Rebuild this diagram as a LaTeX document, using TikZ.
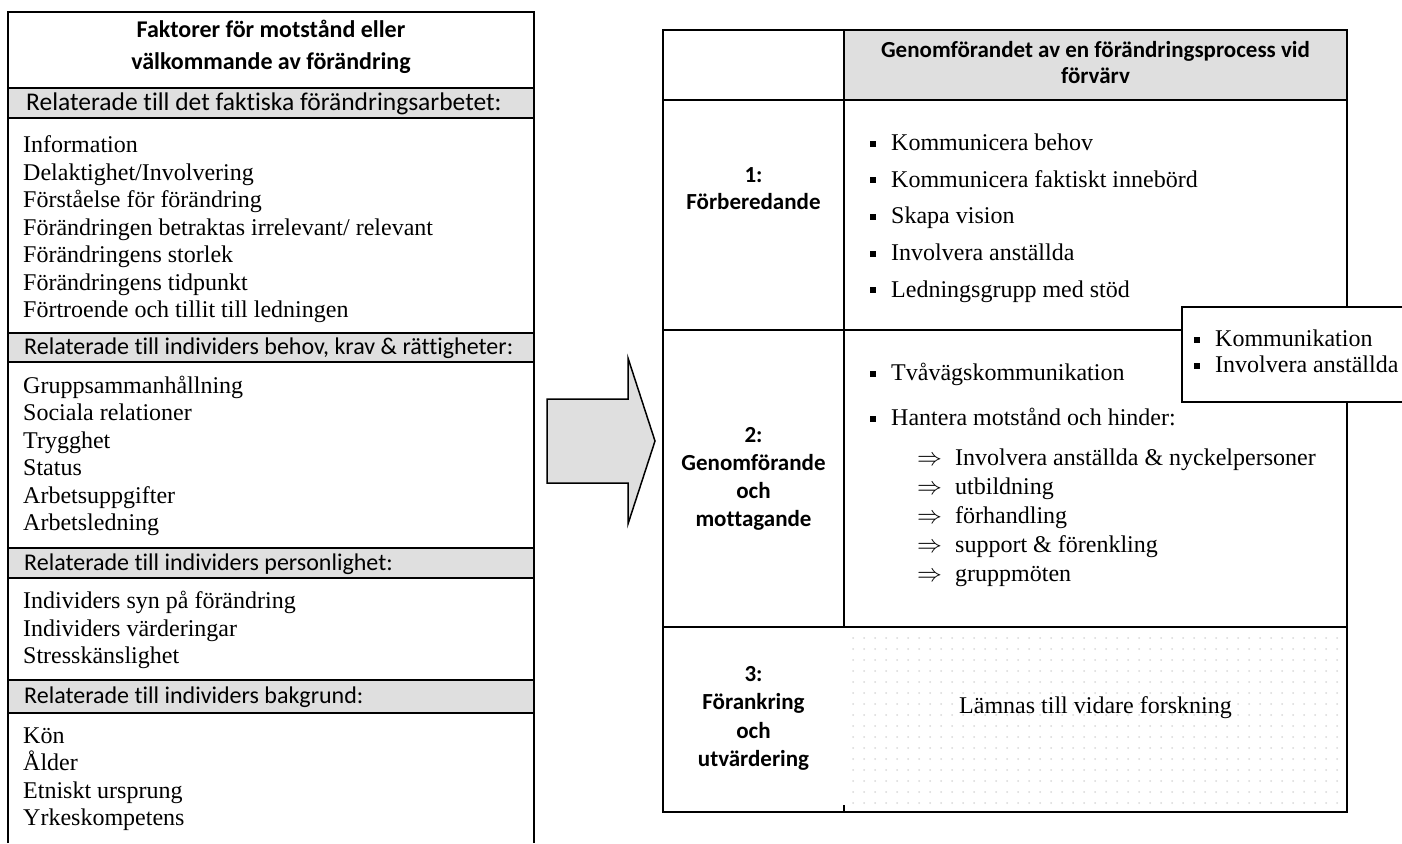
\documentclass[tikz,border=0pt]{standalone}
\usepackage{fontspec}
\setmainfont{Liberation Serif}
\newfontfamily\calibri{Carlito}[Ligatures=NoCommon]
\usetikzlibrary{positioning}
\definecolor{bandgray}{HTML}{DFDFDF}
\definecolor{dotgray}{HTML}{D8D8D8}
\newcommand{\sqbullet}{\makebox[21pt][l]{\rule[4pt]{6pt}{6pt}}}
\newcommand{\dimplies}{\makebox[38pt][l]{$\Rightarrow$}}
\tikzset{
	boxline/.style={
			line width=2pt,
			draw=black
		},
	titlenode/.style={
			font=\calibri\bfseries\fontsize{24}{29}\selectfont,
			inner sep=0pt,
			text height=16pt,
			text depth=5pt
		},
	bandnode/.style={
			anchor=west,
			font=\calibri\fontsize{24}{28}\selectfont,
			inner sep=0pt,
			text height=16pt,
			text depth=5pt
		},
	itemnode/.style={
			anchor=west,
			font=\fontsize{24}{28}\selectfont,
			inner sep=0pt,
			text height=16pt,
			text depth=5pt
		},
	labelnode/.style={
			font=\calibri\bfseries\fontsize{23}{28}\selectfont,
			inner sep=0pt,
			text height=15pt,
			text depth=5pt
		}
}

\begin{document}
\begin{tikzpicture}[x=1pt, y=-1pt]
\useasboundingbox (0,0) rectangle (1402,843);

\fill[bandgray] (8,88) rectangle (534,118) (8,333) rectangle (534,362)
  (8,548) rectangle (534,578) (8,680) rectangle (534,713);
\draw[boxline] (8,843) -- (8,12) -- (534,12) -- (534,843);
\foreach \y in {88,118,333,362,548,578,680,713}
  \draw[boxline] (8,\y) -- (534,\y);

\node[titlenode] (t1) at (271,32) {Faktorer för motstånd eller};
\node[titlenode] (t2) at (271,64) {välkommande av förändring};

\node[bandnode, font=\calibri\fontsize{25.5}{29}\selectfont] (b1) at (26,104.5) {Relaterade till det faktiska förändringsarbetet:};
\node[bandnode] (b2) at (24,349) {Relaterade till individers behov, krav \& rättigheter:};
\node[bandnode] (b3) at (24,564.5) {Relaterade till individers personlighet:};
\node[bandnode] (b4) at (24,698) {Relaterade till individers bakgrund:};

\foreach \txt [count=\i from 0] in {Information, Delaktighet/Involvering,
  Förståelse för förändring, Förändringen betraktas irrelevant/ relevant,
  Förändringens storlek, Förändringens tidpunkt, Förtroende och tillit till ledningen}
  \node[itemnode] (fa\i) at (23,147+27.5*\i) {\txt};
\foreach \txt [count=\i from 0] in {Gruppsammanhållning, Sociala relationer,
  Trygghet, Status, Arbetsuppgifter, Arbetsledning}
  \node[itemnode] (fb\i) at (23,388+27.4*\i) {\txt};
\foreach \txt [count=\i from 0] in {Individers syn på förändring,
  Individers värderingar, Stresskänslighet}
  \node[itemnode] (fc\i) at (23,603+27.5*\i) {\txt};
\foreach \txt [count=\i from 0] in {Kön, Ålder, Etniskt ursprung, Yrkeskompetens}
  \node[itemnode] (fd\i) at (23,738+27.3*\i) {\txt};

\draw[line width=1.5pt, fill=bandgray, line join=miter]
  (547,399) -- (628,399) -- (628,358) -- (655,441) -- (628,524) -- (628,483) -- (547,483) -- cycle;

\fill[bandgray] (844,30) rectangle (1347,100);
\foreach \x in {853,864,...,1340}
  \foreach \y in {638,649,...,803}
    \fill[dotgray] (\x,\y) circle (1pt);
\draw[boxline] (663,30) rectangle (1347,812);
\draw[boxline] (663,100) -- (1347,100);
\draw[boxline] (663,330) -- (1347,330);
\draw[boxline] (663,627) -- (1347,627);
\draw[boxline] (844,30) -- (844,627);
\draw[boxline] (844,805) -- (844,812);

\node[labelnode] (h1) at (1095.5,52) {Genomförandet av en förändringsprocess vid};
\node[labelnode] (h2) at (1095.5,78) {förvärv};

\node[labelnode] (s1a) at (753.5,177) {1:};
\node[labelnode] (s1b) at (753.5,204) {Förberedande};
\node[labelnode] (s2a) at (753.5,437) {2:};
\node[labelnode] (s2b) at (753.5,465) {Genomförande};
\node[labelnode] (s2c) at (753.5,493) {och};
\node[labelnode] (s2d) at (753.5,521) {mottagande};
\node[labelnode] (s3a) at (753.5,676) {3:};
\node[labelnode] (s3b) at (753.5,704) {Förankring};
\node[labelnode] (s3c) at (753.5,733) {och};
\node[labelnode] (s3d) at (753.5,761) {utvärdering};

\foreach \txt [count=\i from 0] in {Kommunicera behov, Kommunicera faktiskt innebörd,
  Skapa vision, Involvera anställda, Ledningsgrupp med stöd}
  \node[itemnode] (p\i) at (870,145+36.7*\i) {\sqbullet\txt};

\node[itemnode] (g1) at (870,375) {\sqbullet Tvåvägskommunikation};
\node[itemnode] (g2) at (870,420) {\sqbullet Hantera motstånd och hinder:};
\foreach \txt [count=\i from 0] in {Involvera anställda \& nyckelpersoner, utbildning,
  förhandling, support \& förenkling, gruppmöten}
  \node[itemnode] (q\i) at (917,460+29.1*\i) {\dimplies\txt};

\node[itemnode, anchor=center] (r1) at (1095.5,708) {Lämnas till vidare forskning};

\filldraw[fill=white, line width=1.5pt] (1182,307) rectangle (1412,402);
\node[itemnode] (k1) at (1194,341) {\sqbullet Kommunikation};
\node[itemnode] (k2) at (1194,367) {\sqbullet Involvera anställda};
\end{tikzpicture}
\end{document}
